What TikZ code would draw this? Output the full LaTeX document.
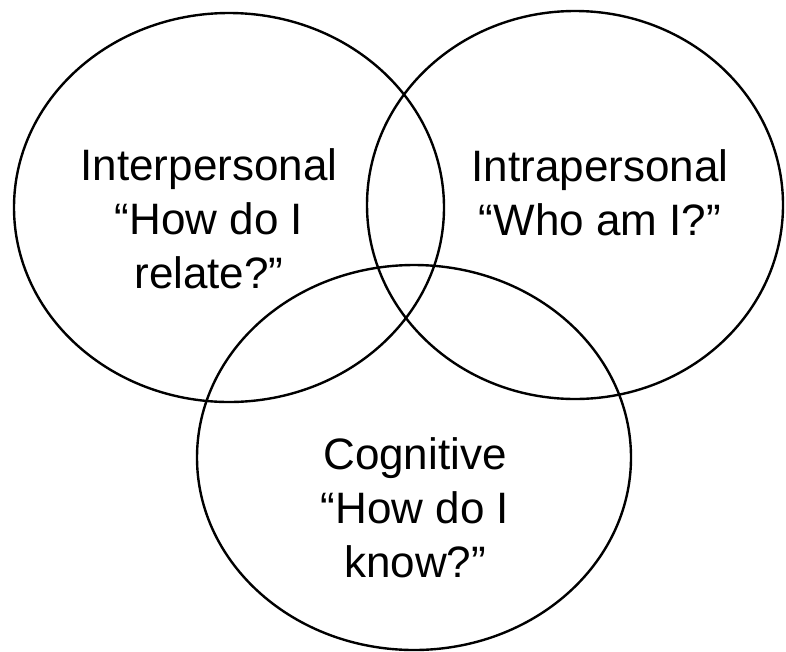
\documentclass[tikz,border=0pt]{standalone}
\usepackage{fontspec}
\setmainfont{Liberation Sans}
\begin{document}
\begin{tikzpicture}[x=1pt,y=-1pt,
  ring/.style={draw=black,line width=2.4pt},
  label/.style={align=center,font=\fontsize{44}{54}\selectfont,inner sep=0pt,anchor=base}]
\useasboundingbox (0,0) rectangle (786,651);
\draw[ring] (229,207.5) ellipse [x radius=215, y radius=194.5];
\draw[ring] (575,205) ellipse [x radius=208, y radius=194];
\draw[ring] (414,457.5) ellipse [x radius=217, y radius=192.5];
\node[label] (inter) at (209,288) {Interpersonal\\“How do I\\relate?”};
\node[label] (intra) at (600,235) {Intrapersonal\\“Who am I?”};
\node[label] (cog) at (415,577) {Cognitive\\“How do I\\know?”};
\end{tikzpicture}
\end{document}
